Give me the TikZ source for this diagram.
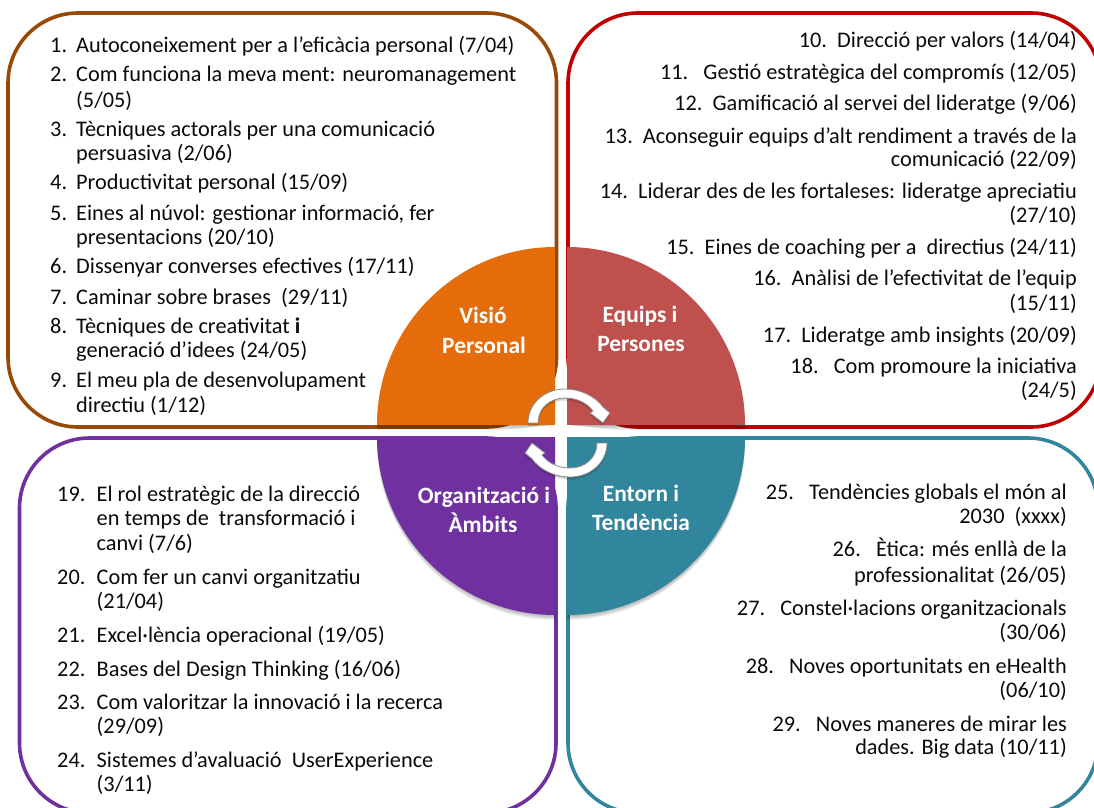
\documentclass[tikz,border=0pt]{standalone}
\usepackage{fontspec}
\setmainfont{Carlito}
\definecolor{cOrange}{HTML}{E46C0A}
\definecolor{cBrown}{HTML}{984807}
\definecolor{cRed}{HTML}{C00000}
\definecolor{cRose}{HTML}{C0504D}
\definecolor{cPurple}{HTML}{7030A0}
\definecolor{cTeal}{HTML}{31859C}
\definecolor{cText}{HTML}{0A0A0A}
\newcounter{itemno}
\tikzset{
  panel/.style={line width=3.6pt,rounded corners=70pt},
  itemleft/.style={inner sep=0pt,anchor=base west,text=cText,font=\fontsize{22.3}{24}\selectfont},
  itemright/.style={inner sep=0pt,anchor=base east,text=cText,font=\fontsize{22.3}{24}\selectfont},
  quarterlabel/.style={inner sep=0pt,anchor=base,text=white,font=\fontsize{23.4}{24}\selectfont\bfseries},
  cyclearrow/.style={fill=white,draw=black!45,line width=0.8pt,line join=round},
}
\newcommand{\LT}[2]{\stepcounter{itemno}\node[itemleft] (t\arabic{itemno}) at (#1) {#2};}
\newcommand{\RT}[2]{\stepcounter{itemno}\node[itemright] (t\arabic{itemno}) at (#1) {#2};}
\newcommand{\QL}[2]{\stepcounter{itemno}\node[quarterlabel] (t\arabic{itemno}) at (#1) {#2};}
\newcommand{\Quarter}[2]{%
  \foreach \d in {1,...,5}{\fill[black,opacity=.06,yshift=-\d pt] #2;}
  \fill[#1] #2;}
\newcommand{\ArrowShape}{(528,423) .. controls (528,403) and (545,389) .. (565,389) .. controls (580,389) and (595,396) .. (603,407) -- (610,413) -- (603,423) -- (590,413) -- (593,411) .. controls (587,403) and (577,398) .. (565,398) .. controls (550,398) and (538,408) .. (538,423) -- cycle}
\begin{document}
\begin{tikzpicture}[x=1pt,y=-1pt]
\useasboundingbox (0,0) rectangle (1094,807);
\clip (0,0) rectangle (1094,807);
% panels
\draw[panel,draw=cBrown] (8,13) rectangle (556.5,427);
\draw[panel,draw=cRed] (568,13) rectangle (1101,427);
\draw[panel,draw=cPurple] (19.5,438) rectangle (556,813);
\draw[panel,draw=cTeal] (568,438) rectangle (1098,813);
% circle quarters
\Quarter{cPurple}{(555,437) -- (377,437) .. controls (377,535.3) and (456.7,615) .. (555,615) -- cycle}
\Quarter{cTeal}{(567,437) -- (745,437) .. controls (745,535.3) and (665.3,615) .. (567,615) -- cycle}
\Quarter{cOrange}{(555,425) -- (377,425) .. controls (377,326.7) and (456.7,247) .. (555,247) -- cycle}
\Quarter{cRose}{(567,425) -- (745,425) .. controls (745,326.7) and (665.3,247) .. (567,247) -- cycle}
% white star at the centre
\fill[white] (561,360) .. controls (562,395) and (564,420) .. (567,425)
  .. controls (585,426) and (605,429) .. (625,431)
  .. controls (605,433) and (585,436) .. (567,437)
  .. controls (564,445) and (562,470) .. (561,493)
  .. controls (560,470) and (558,445) .. (555,437)
  .. controls (535,436) and (518,433) .. (503,431)
  .. controls (518,429) and (535,426) .. (555,425)
  .. controls (558,420) and (560,395) .. (561,360) -- cycle;
% cycle arrows
\foreach \d in {1,...,3}{\fill[black,opacity=.08,yshift=-\d pt] \ArrowShape;}
\draw[cyclearrow] \ArrowShape;
\begin{scope}[shift={(1135,866)},x=-1pt,y=1pt]
\foreach \d in {1,...,3}{\fill[black,opacity=.08,yshift=-\d pt] \ArrowShape;}
\draw[cyclearrow] \ArrowShape;
\end{scope}
% quarter labels
\QL{483,323}{Visió}
\QL{484,353}{Personal}
\QL{640,322}{Equips i}
\QL{641,351}{Persones}
\QL{484,503}{Organització i}
\QL{483,532}{Àmbits}
\QL{641,501}{Entorn i}
\QL{641,530}{Tendència}
% Visio Personal
\LT{50,52}{1.}\LT{76,52}{Autoconeixement per a l’eficàcia personal (7/04)}
\LT{50,81}{2.}\LT{76,81}{Com funciona la meva ment: neuromanagement}
\LT{76,107}{(5/05)}
\LT{50,136}{3.}\LT{76,136}{Tècniques actorals per una comunicació}
\LT{76,160}{persuasiva (2/06)}
\LT{50,189}{4.}\LT{76,189}{Productivitat personal (15/09)}
\LT{50,220}{5.}\LT{76,220}{Eines al núvol: gestionar informació, fer}
\LT{76,244}{presentacions (20/10)}
\LT{50,273}{6.}\LT{76,273}{Dissenyar converses efectives (17/11)}
\LT{50,304}{7.}\LT{76,304}{Caminar sobre brases\ \ (29/11)}
\LT{50,333}{8.}\LT{76,333}{Tècniques de creativitat \textbf{i}}
\LT{76,357}{generació d’idees (24/05)}
\LT{50,387}{9.}\LT{76,387}{El meu pla de desenvolupament}
\LT{76,412}{directiu (1/12)}
% Equips i Persones
\RT{1077,47}{10.\ \ Direcció per valors (14/04)}
\RT{1077,79}{11.\ \ \ Gestió estratègica del compromís (12/05)}
\RT{1077,110}{12.\ \ Gamificació al servei del lideratge (9/06)}
\RT{1077,143}{13.\ \ Aconseguir equips d’alt rendiment a través de la}
\RT{1077,166}{comunicació (22/09)}
\RT{1077,198}{14.\ \ Liderar des de les fortaleses: lideratge apreciatiu}
\RT{1077,222}{(27/10)}
\RT{1077,254}{15.\ \ Eines de coaching per a\ \ directius (24/11)}
\RT{1077,285}{16.\ \ Anàlisi de l’efectivitat de l’equip}
\RT{1077,310}{(15/11)}
\RT{1077,342}{17.\ \ Lideratge amb insights (20/09)}
\RT{1077,373}{18.\ \ \ Com promoure la iniciativa}
\RT{1077,397}{(24/5)}
% Organitzacio i Ambits
\LT{57,501}{19.}\LT{96.5,501}{El rol estratègic de la direcció}
\LT{96.5,525}{en temps de\ \ transformació i}
\LT{96.5,550}{canvi (7/6)}
\LT{57,584}{20.}\LT{96.5,584}{Com fer un canvi organitzatiu}
\LT{96.5,608}{(21/04)}
\LT{57,642}{21.}\LT{96.5,642}{Excel·lència operacional (19/05)}
\LT{57,676}{22.}\LT{96.5,676}{Bases del Design Thinking (16/06)}
\LT{57,709}{23.}\LT{96.5,709}{Com valoritzar la innovació i la recerca}
\LT{96.5,733}{(29/09)}
\LT{57,767}{24.}\LT{96.5,767}{Sistemes d’avaluació\ \ UserExperience}
\LT{96.5,791}{(3/11)}
% Entorn i Tendencia
\RT{1067,499}{25.\ \ \ Tendències globals el món al}
\RT{1067,523}{2030\ \ (xxxx)}
\RT{1067,556}{26.\ \ \ Ètica: més enllà de la}
\RT{1067,582}{professionalitat (26/05)}
\RT{1067,615}{27.\ \ \ Constel·lacions organitzacionals}
\RT{1067,639}{(30/06)}
\RT{1067,673}{28.\ \ \ Noves oportunitats en eHealth}
\RT{1067,697}{(06/10)}
\RT{1067,731}{29.\ \ \ Noves maneres de mirar les}
\RT{1067,754}{dades. Big data (10/11)}
\end{tikzpicture}
\end{document}
